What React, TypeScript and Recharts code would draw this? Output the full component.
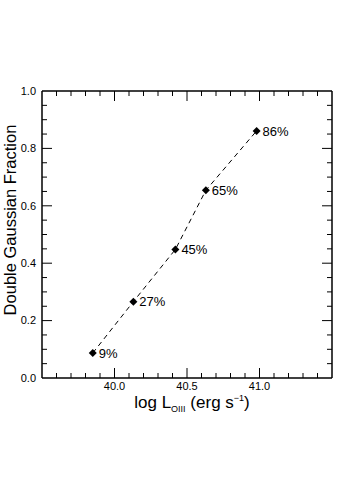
import { LineChart, Line, XAxis, YAxis, LabelList } from "recharts";

// measured points (log L[OIII] vs double-gaussian fraction)
const logL = [39.85, 40.13, 40.42, 40.63, 40.98];
const fraction = [0.087, 0.266, 0.448, 0.654, 0.861];
const pctLabels = ["9%", "27%", "45%", "65%", "86%"];

const xTicks = [
  39.6, 39.7, 39.8, 39.9, 40.0, 40.1, 40.2, 40.3, 40.4, 40.5,
  40.6, 40.7, 40.8, 40.9, 41.0, 41.1, 41.2, 41.3, 41.4,
];
const xMajor = [40.0, 40.5, 41.0];
const xTickLabels = ["40.0", "40.5", "41.0"];

const yTicks = [
  0.0, 0.05, 0.1, 0.15, 0.2, 0.25, 0.3, 0.35, 0.4, 0.45, 0.5,
  0.55, 0.6, 0.65, 0.7, 0.75, 0.8, 0.85, 0.9, 0.95, 1.0,
];
const yMajor = [0.0, 0.2, 0.4, 0.6, 0.8, 1.0];
const yTickLabels = ["0.0", "0.2", "0.4", "0.6", "0.8", "1.0"];

const data = logL.map((x, i) => ({ x, y: fraction[i], label: pctLabels[i] }));

const FONT = "'Liberation Sans', Arial, Helvetica, sans-serif";
const MAJOR = 10;
const MINOR = 5;
const FRAME = { stroke: "#000", strokeWidth: 1.5 };

const near = (a: number, b: number) => Math.abs(a - b) < 1e-6;
const majorIndex = (list: number[], v: number) => list.findIndex((m) => near(m, v));

function BottomTick(props: any) {
  const { x, y, payload } = props;
  const i = majorIndex(xMajor, payload.value);
  const len = i >= 0 ? MAJOR : MINOR;
  return (
    <g>
      <line x1={x} x2={x} y1={y} y2={y - len} stroke="#000" />
      {i >= 0 && (
        <text x={x} y={y + 12} textAnchor="middle" fontSize={11} fontFamily={FONT} fill="#000">
          {xTickLabels[i]}
        </text>
      )}
    </g>
  );
}

function TopTick(props: any) {
  const { x, y, payload } = props;
  const len = majorIndex(xMajor, payload.value) >= 0 ? MAJOR : MINOR;
  return <line x1={x} x2={x} y1={y} y2={y + len} stroke="#000" />;
}

function LeftTick(props: any) {
  const { x, y, payload } = props;
  const i = majorIndex(yMajor, payload.value);
  const len = i >= 0 ? MAJOR : MINOR;
  const edge = i === 0 || i === yMajor.length - 1;
  return (
    <g>
      {!edge && <line x1={x} x2={x + len} y1={y} y2={y} stroke="#000" />}
      {i >= 0 && (
        <text x={x - 6} y={y} dy="0.35em" textAnchor="end" fontSize={11} fontFamily={FONT} fill="#000">
          {yTickLabels[i]}
        </text>
      )}
    </g>
  );
}

function RightTick(props: any) {
  const { x, y, payload } = props;
  const i = majorIndex(yMajor, payload.value);
  if (i === 0 || i === yMajor.length - 1) return <g />;
  const len = i >= 0 ? MAJOR : MINOR;
  return <line x1={x} x2={x - len} y1={y} y2={y} stroke="#000" />;
}

function Diamond(props: any) {
  const { cx, cy } = props;
  if (cx == null || cy == null) return <g />;
  const r = 4;
  return (
    <path
      d={`M${cx},${cy - r}L${cx + r},${cy}L${cx},${cy + r}L${cx - r},${cy}Z`}
      fill="#000"
      stroke="none"
    />
  );
}

function PointLabel(props: any) {
  const { x, y, value } = props;
  return (
    <text x={x + 6} y={y} dy="0.36em" fontSize={13} fontFamily={FONT} fill="#000">
      {value}
    </text>
  );
}

function XTitle(props: any) {
  const { viewBox } = props;
  const cx = viewBox.x + viewBox.width / 2 + 5;
  return (
    <text x={cx} y={408} textAnchor="middle" fontSize={17} fontFamily={FONT} fill="#000">
      log L
      <tspan fontSize={9} dy={4}>OIII</tspan>
      <tspan dy={-4}> (erg s</tspan>
      <tspan fontSize={9} dy={-7}>−1</tspan>
      <tspan dy={7}>)</tspan>
    </text>
  );
}

function YTitle() {
  return (
    <text
      x={15.5}
      y={220}
      transform="rotate(-90 15.5 220)"
      textAnchor="middle"
      fontSize={16.5}
      fontFamily={FONT}
      fill="#000"
    >
      Double Gaussian Fraction
    </text>
  );
}

export default function App() {
  return (
    <div style={{ position: "absolute", left: 0, top: 0, background: "#fff" }}>
      <LineChart
        width={349}
        height={494}
        data={data}
        margin={{ top: 90, right: 16, bottom: 86, left: 0 }}
      >
        <XAxis
          dataKey="x"
          type="number"
          domain={[39.5, 41.5]}
          allowDataOverflow
          ticks={xTicks}
          interval={0}
          tickSize={0}
          tickMargin={0}
          tickLine={false}
          axisLine={FRAME}
          tick={BottomTick}
          height={30}
          label={{ content: XTitle }}
        />
        <XAxis
          xAxisId="top"
          orientation="top"
          dataKey="x"
          type="number"
          domain={[39.5, 41.5]}
          allowDataOverflow
          ticks={xTicks}
          interval={0}
          tickSize={0}
          tickMargin={0}
          tickLine={false}
          axisLine={FRAME}
          tick={TopTick}
          height={1}
        />
        <YAxis
          type="number"
          domain={[0, 1]}
          ticks={yTicks}
          interval={0}
          tickSize={0}
          tickMargin={0}
          tickLine={false}
          axisLine={FRAME}
          tick={LeftTick}
          width={42}
          label={{ content: YTitle }}
        />
        <YAxis
          yAxisId="right"
          orientation="right"
          type="number"
          domain={[0, 1]}
          ticks={yTicks}
          interval={0}
          tickSize={0}
          tickMargin={0}
          tickLine={false}
          axisLine={FRAME}
          tick={RightTick}
          width={1}
        />
        {/* invisible twin so the top/right frame axes get drawn */}
        <Line
          xAxisId="top"
          yAxisId="right"
          dataKey="y"
          stroke="none"
          dot={false}
          activeDot={false}
          legendType="none"
          isAnimationActive={false}
        />
        <Line
          dataKey="y"
          type="linear"
          stroke="#000"
          strokeWidth={1}
          strokeDasharray="5 4"
          dot={<Diamond />}
          activeDot={false}
          isAnimationActive={false}
        >
          <LabelList dataKey="label" content={PointLabel} />
        </Line>
      </LineChart>
    </div>
  );
}
